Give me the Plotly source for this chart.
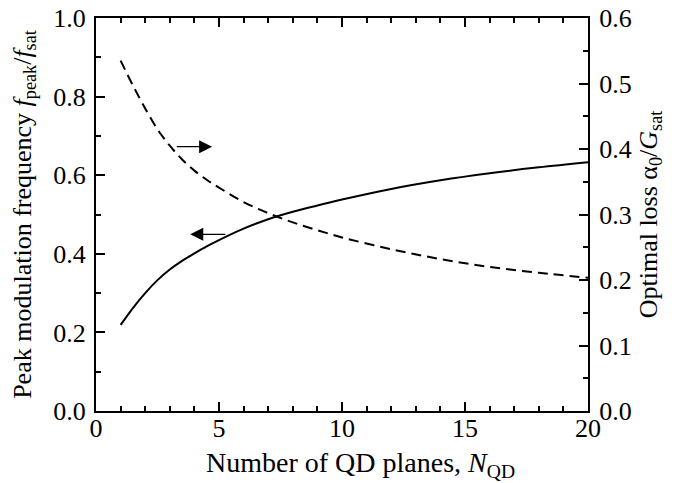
import plotly.graph_objects as go

n_qd = [1, 1.5, 2, 2.5, 3, 3.5, 4, 4.5, 5, 6, 7, 8, 9, 10, 12, 14, 16, 18, 20]
f_peak = [0.219, 0.262, 0.300, 0.333, 0.360, 0.382, 0.401, 0.419, 0.435, 0.464, 0.488, 0.507,
          0.523, 0.538, 0.565, 0.587, 0.605, 0.620, 0.633]
alpha_opt = [0.535, 0.497, 0.462, 0.430, 0.405, 0.384, 0.367, 0.353, 0.341, 0.319, 0.302, 0.288,
             0.276, 0.265, 0.247, 0.232, 0.220, 0.211, 0.2035]

x_ticks = [0, 5, 10, 15, 20]
y1_ticks = [0.0, 0.2, 0.4, 0.6, 0.8, 1.0]
y2_ticks = [0.0, 0.1, 0.2, 0.3, 0.4, 0.5, 0.6]

FONT = "Liberation Serif"
TICK_SIZE = 26
TITLE_SIZE = 26

fig = go.Figure()
fig.add_trace(go.Scatter(x=n_qd, y=f_peak, mode="lines",
                         line=dict(color="black", width=2, shape="spline"),
                         yaxis="y", showlegend=False))
fig.add_trace(go.Scatter(x=n_qd, y=alpha_opt, mode="lines",
                         line=dict(color="black", width=2, dash="10px,6px", shape="spline"),
                         yaxis="y2", showlegend=False))

# arrows pointing to the axis each curve belongs to
fig.add_annotation(x=4.72, y=0.6725, ax=3.22, ay=0.6725, xref="x", yref="y", axref="x", ayref="y",
                   text="", showarrow=True, arrowhead=2, arrowsize=2, arrowwidth=1.3,
                   arrowcolor="black")
fig.add_annotation(x=3.83, y=0.4496, ax=5.32, ay=0.4496, xref="x", yref="y", axref="x", ayref="y",
                   text="", showarrow=True, arrowhead=2, arrowsize=2, arrowwidth=1.3,
                   arrowcolor="black")

# x-axis title
fig.add_annotation(text="Number of QD planes, <i>N</i><sub>QD</sub>", xref="paper", yref="paper",
                   x=0.538, y=0, yshift=-53, xanchor="center", yanchor="middle", showarrow=False,
                   font=dict(family=FONT, size=28, color="black"))

axis_common = dict(showline=True, linecolor="black", linewidth=2, ticks="inside",
                   tickcolor="black", tickwidth=1.5, ticklen=9, showgrid=False, zeroline=False,
                   automargin=False, ticklabeloverflow="allow",
                   tickfont=dict(family=FONT, size=TICK_SIZE, color="black"))
minor_common = dict(ticks="inside", ticklen=5, tickcolor="black", tickwidth=1.5, showgrid=False)

fig.update_layout(
    width=666, height=475,
    margin=dict(l=88, r=86, t=10, b=72),
    paper_bgcolor="white", plot_bgcolor="white",
    font=dict(family=FONT, color="black"),
    xaxis=dict(range=[0, 20], tickvals=x_ticks, ticktext=[str(v) for v in x_ticks],
               mirror="ticks", minor=dict(dtick=1, **minor_common), ticklabelstandoff=-7,
               **axis_common),
    yaxis=dict(range=[0, 1.0], tickvals=y1_ticks, ticktext=[f"{v:.1f}" for v in y1_ticks],
               minor=dict(dtick=0.1, **minor_common), ticklabelstandoff=3,
               title=dict(text="Peak modulation frequency <i>f</i><sub>peak</sub>/<i>f</i><sub>sat</sub>",
                          font=dict(family=FONT, size=TITLE_SIZE), standoff=18),
               **axis_common),
    yaxis2=dict(range=[0, 0.6], tickvals=y2_ticks, ticktext=[f"{v:.1f}" for v in y2_ticks],
                overlaying="y", side="right", minor=dict(dtick=0.05, **minor_common),
                ticklabelstandoff=4,
                title=dict(text="Optimal loss α<sub>0</sub>/<i>G</i><sub>sat</sub>",
                           font=dict(family=FONT, size=TITLE_SIZE), standoff=8),
                **axis_common),
)

fig.write_html("out.html")
